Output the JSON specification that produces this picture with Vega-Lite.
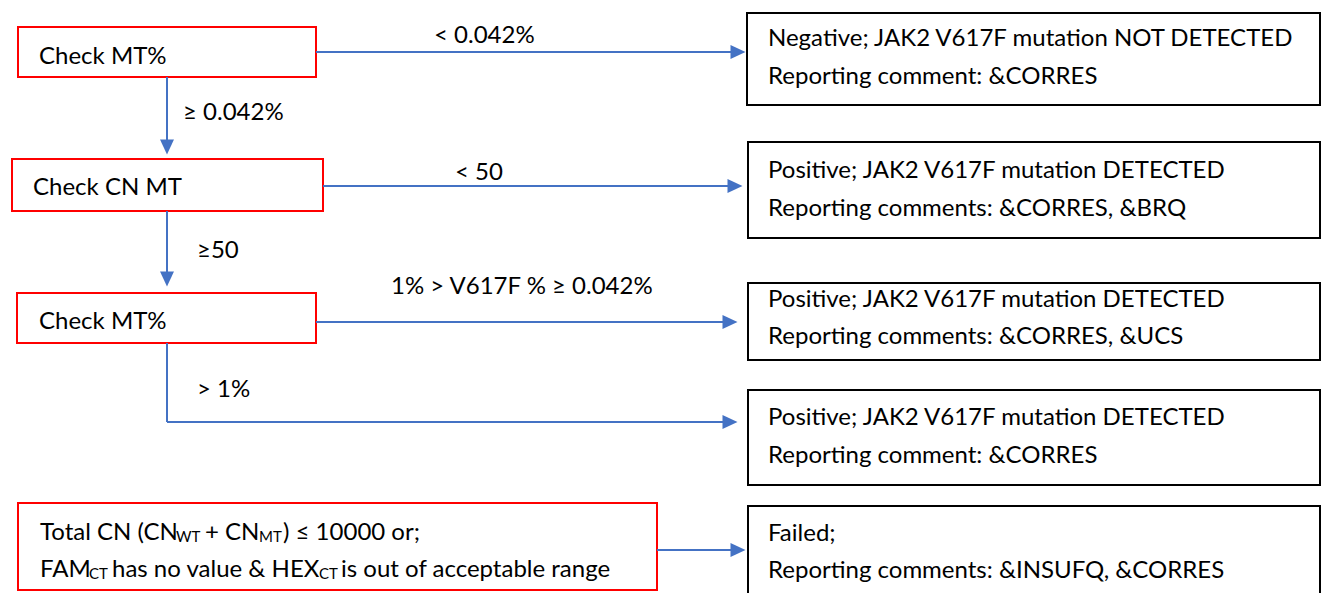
{
  "$schema": "https://vega.github.io/schema/vega-lite/v6.json",
  "width": 1323,
  "height": 593,
  "autosize": {"type": "fit", "contains": "padding"},
  "padding": 0,
  "background": "white",
  "config": {"view": {"stroke": null}},
  "datasets": {
    "boxes": [
      {"x": 18, "x2": 316, "y": 27, "y2": 77, "kind": "condition"},
      {"x": 12, "x2": 323, "y": 159, "y2": 211, "kind": "condition"},
      {"x": 17, "x2": 316, "y": 293, "y2": 343, "kind": "condition"},
      {"x": 18, "x2": 657, "y": 503, "y2": 590, "kind": "condition"},
      {"x": 747, "x2": 1320, "y": 13, "y2": 105, "kind": "result"},
      {"x": 748, "x2": 1320, "y": 142, "y2": 238, "kind": "result"},
      {"x": 748, "x2": 1320, "y": 283, "y2": 360, "kind": "result"},
      {"x": 748, "x2": 1320, "y": 390, "y2": 485, "kind": "result"},
      {"x": 748, "x2": 1320, "y": 506, "y2": 600, "kind": "result"}
    ],
    "lines": [
      {"x": 316, "x2": 731, "y": 52, "y2": 52},
      {"x": 167, "x2": 167, "y": 77, "y2": 140},
      {"x": 323, "x2": 728, "y": 186, "y2": 186},
      {"x": 167, "x2": 167, "y": 211, "y2": 272},
      {"x": 316, "x2": 723, "y": 322, "y2": 322},
      {"x": 167, "x2": 167, "y": 343, "y2": 422},
      {"x": 167, "x2": 723, "y": 422, "y2": 422},
      {"x": 657, "x2": 731, "y": 550, "y2": 550}
    ],
    "heads": [
      {"x": 738, "y": 52, "dir": "right"},
      {"x": 167, "y": 147, "dir": "down"},
      {"x": 735, "y": 186, "dir": "right"},
      {"x": 167, "y": 279, "dir": "down"},
      {"x": 730, "y": 322, "dir": "right"},
      {"x": 730, "y": 422, "dir": "right"},
      {"x": 738, "y": 550, "dir": "right"}
    ],
    "texts": [
      {"x": 39, "y": 64, "text": "Check MT%", "role": "main"},
      {"x": 33, "y": 195, "text": "Check CN MT", "role": "main"},
      {"x": 39, "y": 329, "text": "Check MT%", "role": "main"},
      {"x": 434, "y": 43, "text": "< 0.042%", "role": "main"},
      {"x": 183, "y": 120, "text": "≥ 0.042%", "role": "main"},
      {"x": 455, "y": 180, "text": "< 50", "role": "main"},
      {"x": 197, "y": 258, "text": "≥50", "role": "main"},
      {"x": 391, "y": 294, "text": "1% > V617F % ≥ 0.042%", "role": "main"},
      {"x": 197, "y": 397, "text": "> 1%", "role": "main"},
      {"x": 768, "y": 46, "text": "Negative; JAK2 V617F mutation NOT DETECTED", "role": "main"},
      {"x": 768, "y": 84, "text": "Reporting comment: &CORRES", "role": "main"},
      {"x": 768, "y": 178, "text": "Positive; JAK2 V617F mutation DETECTED", "role": "main"},
      {"x": 768, "y": 216, "text": "Reporting comments: &CORRES, &BRQ", "role": "main"},
      {"x": 768, "y": 307, "text": "Positive; JAK2 V617F mutation DETECTED", "role": "main"},
      {"x": 768, "y": 344, "text": "Reporting comments: &CORRES, &UCS", "role": "main"},
      {"x": 768, "y": 425, "text": "Positive; JAK2 V617F mutation DETECTED", "role": "main"},
      {"x": 768, "y": 463, "text": "Reporting comment: &CORRES", "role": "main"},
      {"x": 768, "y": 541, "text": "Failed;", "role": "main"},
      {"x": 768, "y": 578, "text": "Reporting comments: &INSUFQ, &CORRES", "role": "main"},
      {"x": 40, "y": 540, "text": "Total CN (CN", "role": "main"},
      {"x": 176, "y": 542, "text": "WT", "role": "sub"},
      {"x": 205, "y": 540, "text": "+ CN", "role": "main"},
      {"x": 259, "y": 542, "text": "MT", "role": "sub"},
      {"x": 283, "y": 540, "text": ") ≤ 10000 or;", "role": "main"},
      {"x": 40, "y": 577, "text": "FAM", "role": "main"},
      {"x": 89, "y": 579, "text": "CT", "role": "sub"},
      {"x": 112, "y": 577, "text": "has no value & HEX", "role": "main"},
      {"x": 319, "y": 579, "text": "CT", "role": "sub"},
      {"x": 341, "y": 577, "text": "is out of acceptable range", "role": "main"}
    ]
  },
  "layer": [
    {
      "data": {"name": "boxes"},
      "mark": {"type": "rect", "fill": "white", "strokeWidth": 2, "clip": true},
      "encoding": {
        "x": {"field": "x", "type": "quantitative", "scale": {"domain": [0, 1323], "nice": false, "zero": false}, "axis": null},
        "x2": {"field": "x2"},
        "y": {"field": "y", "type": "quantitative", "scale": {"domain": [0, 593], "nice": false, "zero": false, "reverse": true}, "axis": null},
        "y2": {"field": "y2"},
        "stroke": {"field": "kind", "type": "nominal", "scale": {"domain": ["condition", "result"], "range": ["#FF0000", "#000000"]}, "legend": null}
      }
    },
    {
      "data": {"name": "lines"},
      "mark": {"type": "rule", "color": "#4472C4", "strokeWidth": 2},
      "encoding": {
        "x": {"field": "x", "type": "quantitative"},
        "x2": {"field": "x2"},
        "y": {"field": "y", "type": "quantitative"},
        "y2": {"field": "y2"}
      }
    },
    {
      "data": {"name": "heads"},
      "mark": {"type": "point", "filled": true, "color": "#4472C4", "opacity": 1, "size": 225},
      "encoding": {
        "x": {"field": "x", "type": "quantitative"},
        "y": {"field": "y", "type": "quantitative"},
        "shape": {"field": "dir", "type": "nominal", "scale": {"domain": ["right", "down"], "range": ["M-1,-0.93L1,0L-1,0.93Z", "M-0.93,-1L0.93,-1L0,1Z"]}, "legend": null}
      }
    },
    {
      "data": {"name": "texts"},
      "mark": {"type": "text", "align": "left", "baseline": "alphabetic", "font": "Lato", "color": "black"},
      "encoding": {
        "x": {"field": "x", "type": "quantitative"},
        "y": {"field": "y", "type": "quantitative"},
        "text": {"field": "text"},
        "size": {"field": "role", "type": "nominal", "scale": {"domain": ["main", "sub"], "range": [24, 15]}, "legend": null}
      }
    }
  ]
}
